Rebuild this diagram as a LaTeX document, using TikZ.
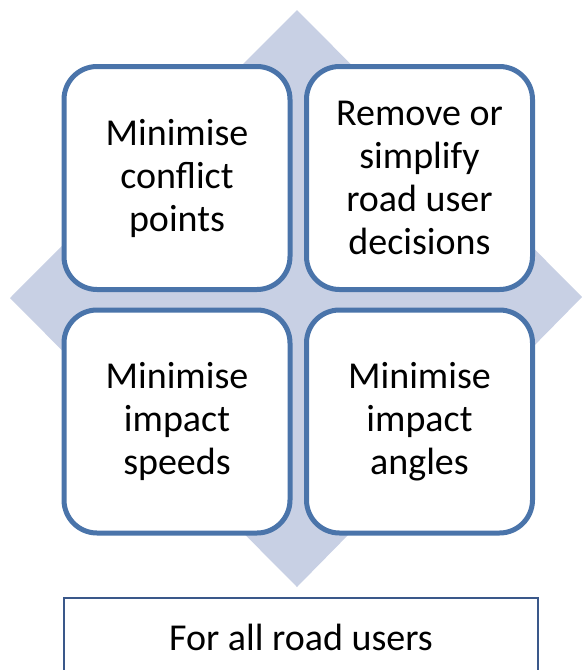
\documentclass[tikz,border=0pt]{standalone}
\usepackage{fontspec}
\setmainfont{Carlito}
\definecolor{diamblue}{RGB}{200, 208, 228}
\definecolor{edgeblue}{RGB}{74, 116, 170}
\definecolor{baseblue}{RGB}{58, 88, 138}
\usetikzlibrary{positioning}

\begin{document}
\begin{tikzpicture}[
  x=1pt, y=-1pt,
  blk/.style={draw=edgeblue, line width=5pt, fill=white, rounded corners=33pt, minimum width=226pt, minimum height=223pt, align=center, font=\fontsize{38}{43}\selectfont},
  base/.style={draw=baseblue, line width=2.5pt, fill=white, minimum width=474pt, minimum height=78pt, font=\fontsize{38}{43}\selectfont},
]
  \useasboundingbox (0, 0) rectangle (582, 670);
  % backing diamond
  \fill[diamblue] (297, 10) -- (582, 297) -- (297, 587) -- (10, 298) -- cycle;
  \node[blk] (tl) at (177, 178) {Minimise\\conflict\\points};
  \node[blk] (tr) at (419.5, 178) {Remove or\\simplify\\road user\\decisions};
  \node[blk] (bl) at (177, 421.5) {Minimise\\impact\\speeds};
  \node[blk] (br) at (419.5, 421.5) {Minimise\\impact\\angles};
  \node[base] (all) at (301, 637) {For all road users};
\end{tikzpicture}
\end{document}
